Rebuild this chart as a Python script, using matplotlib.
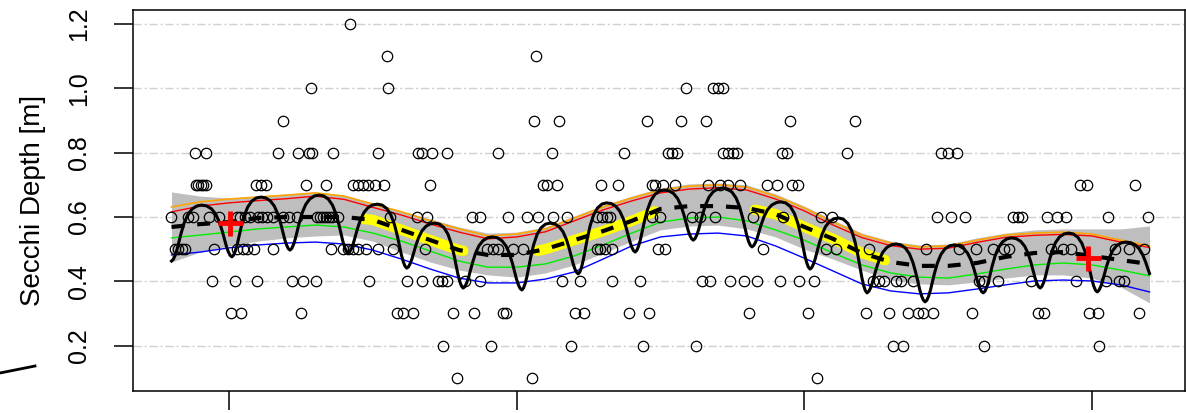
import numpy as np
import matplotlib
matplotlib.use("Agg")
import matplotlib.pyplot as plt
from matplotlib.lines import Line2D

plt.rcParams['font.family'] = ['Liberation Sans', 'DejaVu Sans']

# observed Secchi depths, grouped by recorded depth (decimal years)
obs_12 = [2002.10]
obs_11 = [2002.75, 2005.34]
obs_10 = [2001.43, 2002.76, 2007.94, 2008.41, 2008.50, 2008.59]
obs_09 = [2000.94, 2005.30, 2005.74, 2007.27, 2007.86, 2008.29, 2009.75, 2010.88]
obs_08 = [1999.41, 1999.60, 2000.85, 2001.20, 2001.39, 2001.44, 2001.81, 2002.59,
          2003.29, 2003.35, 2003.53, 2003.79, 2004.68, 2005.61, 2006.87, 2007.63,
          2007.70, 2007.79, 2008.59, 2008.67, 2008.76, 2008.83, 2009.61, 2009.70,
          2010.74, 2012.38, 2012.50, 2012.65]
obs_07 = [1999.43, 1999.46, 1999.51, 1999.55, 1999.60, 2000.47, 2000.56, 2000.64,
          2001.34, 2001.69, 2002.16, 2002.24, 2002.33, 2002.42, 2002.54, 2002.69,
          2003.49, 2005.46, 2005.53, 2005.70, 2006.47, 2006.76, 2007.35, 2007.40,
          2007.54, 2007.75, 2008.33, 2008.53, 2008.67, 2008.88, 2009.35, 2009.53,
          2009.79, 2009.89, 2014.79, 2014.91, 2015.75]
obs_06 = [1998.99, 1999.29, 1999.37, 1999.65, 1999.83, 2000.14, 2000.19, 2000.28,
          2000.37, 2000.50, 2000.57, 2000.66, 2000.76, 2000.94, 2001.04, 2001.18,
          2001.53, 2001.58, 2001.63, 2001.69, 2001.74, 2001.79, 2001.89, 2002.80,
          2003.27, 2003.44, 2004.22, 2004.36, 2004.85, 2005.18, 2005.37, 2005.63,
          2005.88, 2006.40, 2006.48, 2006.57, 2006.62, 2007.35, 2007.49, 2008.05,
          2008.19, 2008.45, 2009.11, 2009.63, 2010.29, 2010.48, 2012.31, 2012.55,
          2012.79, 2013.63, 2013.71, 2013.78, 2014.22, 2014.39, 2014.55, 2015.28,
          2015.97]
obs_05 = [1999.06, 1999.11, 1999.18, 1999.24, 1999.74, 2000.14, 2000.24, 2000.31,
          2000.43, 2000.76, 2001.77, 2001.98, 2002.07, 2002.16, 2002.24, 2002.38,
          2002.59, 2002.85, 2003.41, 2004.48, 2004.59, 2004.68, 2004.94, 2005.11,
          2006.40, 2006.45, 2006.54, 2006.66, 2007.46, 2007.58, 2009.28, 2010.38,
          2010.55, 2011.12, 2012.12, 2012.69, 2012.98, 2013.28, 2013.47, 2013.56,
          2014.29, 2014.50, 2014.64, 2015.40, 2015.64, 2015.90]
obs_04 = [1999.70, 2000.10, 2000.49, 2001.10, 2001.29, 2001.51, 2002.43, 2003.09,
          2003.35, 2003.63, 2003.70, 2003.79, 2004.10, 2004.36, 2005.79, 2006.10,
          2006.66, 2007.14, 2008.22, 2008.36, 2008.71, 2008.95, 2009.18, 2009.58,
          2009.90, 2010.17, 2011.19, 2011.30, 2011.39, 2011.59, 2011.68, 2011.89,
          2013.04, 2013.12, 2013.37, 2013.94, 2014.72, 2015.24, 2015.47, 2015.56]
obs_03 = [2000.03, 2000.21, 2001.25, 2002.92, 2003.02, 2003.20, 2003.89, 2004.26,
          2004.76, 2004.82, 2006.01, 2006.17, 2006.95, 2007.30, 2009.04, 2010.06,
          2011.07, 2011.47, 2011.80, 2011.98, 2012.06, 2012.24, 2012.92, 2014.06,
          2014.17, 2014.95, 2015.10, 2015.82]
obs_02 = [2003.72, 2004.55, 2005.94, 2007.20, 2008.12, 2011.54, 2011.72, 2013.12, 2015.12]
obs_01 = [2003.96, 2005.27, 2010.22]

depth_levels = [1.2, 1.1, 1.0, 0.9, 0.8, 0.7, 0.6, 0.5, 0.4, 0.3, 0.2, 0.1]
obs_groups = [obs_12, obs_11, obs_10, obs_09, obs_08, obs_07, obs_06, obs_05,
              obs_04, obs_03, obs_02, obs_01]

# smooth fits, read every half year
fit_year = [1999.0 + 0.5 * i for i in range(35)]
trend = [0.569, 0.578, 0.584, 0.597, 0.600, 0.600, 0.600, 0.591, 0.560, 0.528,
         0.497, 0.482, 0.482, 0.500, 0.528, 0.556, 0.588, 0.625, 0.634, 0.634,
         0.628, 0.609, 0.569, 0.532, 0.488, 0.460, 0.448, 0.448, 0.457, 0.476,
         0.488, 0.491, 0.479, 0.466, 0.454]
band_hi = [0.678, 0.665, 0.659, 0.665, 0.672, 0.678, 0.668, 0.644, 0.619, 0.594,
           0.569, 0.550, 0.553, 0.569, 0.603, 0.637, 0.665, 0.690, 0.703, 0.706,
           0.700, 0.672, 0.634, 0.591, 0.550, 0.525, 0.513, 0.516, 0.535, 0.550,
           0.560, 0.563, 0.563, 0.563, 0.572]
band_lo = [0.460, 0.491, 0.510, 0.525, 0.535, 0.541, 0.544, 0.525, 0.491, 0.460,
           0.435, 0.420, 0.413, 0.426, 0.451, 0.488, 0.525, 0.560, 0.572, 0.575,
           0.563, 0.538, 0.500, 0.469, 0.435, 0.404, 0.392, 0.389, 0.398, 0.410,
           0.420, 0.420, 0.410, 0.382, 0.333]
q_orange = [0.631, 0.647, 0.656, 0.662, 0.668, 0.675, 0.665, 0.640, 0.616, 0.588,
            0.563, 0.541, 0.547, 0.563, 0.597, 0.631, 0.659, 0.684, 0.696, 0.700,
            0.693, 0.665, 0.628, 0.584, 0.544, 0.519, 0.507, 0.510, 0.528, 0.544,
            0.550, 0.553, 0.547, 0.528, 0.510]
q_red = [0.616, 0.634, 0.644, 0.651, 0.657, 0.665, 0.655, 0.630, 0.606, 0.578,
         0.553, 0.532, 0.538, 0.554, 0.588, 0.622, 0.650, 0.675, 0.687, 0.691,
         0.684, 0.656, 0.619, 0.575, 0.536, 0.511, 0.500, 0.503, 0.521, 0.537,
         0.543, 0.546, 0.541, 0.522, 0.505]
q_green = [0.535, 0.544, 0.553, 0.563, 0.569, 0.575, 0.569, 0.550, 0.525, 0.494,
           0.463, 0.444, 0.444, 0.454, 0.479, 0.513, 0.550, 0.584, 0.597, 0.600,
           0.588, 0.560, 0.528, 0.488, 0.451, 0.426, 0.413, 0.410, 0.423, 0.438,
           0.451, 0.457, 0.451, 0.435, 0.417]
q_blue = [0.482, 0.491, 0.504, 0.513, 0.519, 0.522, 0.516, 0.497, 0.469, 0.438,
          0.410, 0.395, 0.395, 0.407, 0.429, 0.469, 0.510, 0.538, 0.547, 0.550,
          0.541, 0.510, 0.472, 0.432, 0.392, 0.370, 0.361, 0.364, 0.376, 0.389,
          0.401, 0.404, 0.401, 0.389, 0.367]

# periods with a significant trend
signif_periods = [(2002.35, 2004.07), (2005.36, 2007.40), (2009.14, 2011.40)]

# seasonal fit: yearly minima and maxima
trough_year = [1999.00, 2000.05, 2001.06, 2002.07, 2003.09, 2004.07, 2005.09, 2006.07,
               2007.06, 2008.07, 2009.09, 2010.10, 2011.09, 2012.10, 2013.11, 2014.10,
               2015.09, 2016.09]
trough_val = [0.463, 0.476, 0.497, 0.488, 0.441, 0.379, 0.373, 0.423, 0.491, 0.528,
              0.507, 0.438, 0.364, 0.336, 0.364, 0.379, 0.367, 0.400]
peak_val = [0.637, 0.662, 0.668, 0.640, 0.581, 0.538, 0.581, 0.644, 0.684, 0.690,
            0.647, 0.597, 0.516, 0.513, 0.535, 0.550, 0.522]
# shape of one seasonal cycle (fraction of the way from trough to peak)
rise_phase = [0.0, 0.03, 0.06, 0.09, 0.12, 0.16, 0.21, 0.27, 0.34, 0.42, 0.50]
rise_frac = [0.0, 0.03, 0.10, 0.20, 0.33, 0.50, 0.68, 0.83, 0.93, 0.985, 1.0]
fall_phase = [0.58, 0.66, 0.73, 0.79, 0.84, 0.88, 0.91, 0.94, 0.97]
fall_frac = [0.985, 0.93, 0.83, 0.68, 0.50, 0.33, 0.20, 0.10, 0.03]

first_obs = (2000.02, 0.581)
last_obs = (2014.93, 0.472)

seas_t, seas_v = [], []
for i in range(len(peak_val)):
    t0, t1 = trough_year[i], trough_year[i + 1]
    span = t1 - t0
    for ph, fr in zip(rise_phase, rise_frac):
        seas_t.append(t0 + ph * span)
        seas_v.append(trough_val[i] + fr * (peak_val[i] - trough_val[i]))
    for ph, fr in zip(fall_phase, fall_frac):
        seas_t.append(t0 + ph * span)
        seas_v.append(trough_val[i + 1] + fr * (peak_val[i] - trough_val[i + 1]))
seas_t = np.array(seas_t)
seas_v = np.array(seas_v)
keep = seas_t <= 2016.0
seas_t, seas_v = seas_t[keep], seas_v[keep]

fig = plt.figure(figsize=(11.86, 4.13), dpi=100)
ax = fig.add_axes([133 / 1186, 22 / 413, 1052 / 1186, 381 / 413])

for lev in [0.2, 0.4, 0.6, 0.8, 1.0, 1.2]:
    ax.axhline(lev, color='#d0d0d0', lw=1, ls=(0, (6, 2, 1.5, 2)), zorder=0)

fy = np.array(fit_year)
ax.fill_between(fy, band_lo, band_hi, color='#bebebe', lw=0, zorder=1)
ax.plot(fy, q_orange, color='orange', lw=1.2, zorder=2)
ax.plot(fy, q_red, color='red', lw=1.0, zorder=2)
ax.plot(fy, q_green, color='#00ee00', lw=1.0, zorder=2)
ax.plot(fy, q_blue, color='blue', lw=1.0, zorder=2)

tr = np.array(trend)
for a, b in signif_periods:
    m = (fy >= a) & (fy <= b)
    xs = np.concatenate([[a], fy[m], [b]])
    ys = np.interp(xs, fy, tr)
    ax.plot(xs, ys, color='yellow', lw=7.5, solid_capstyle='round', zorder=3)

ax.plot(fy, tr, color='black', lw=3, dashes=(3.1, 3.1), zorder=4)
ax.plot(seas_t, seas_v, color='black', lw=2.2, zorder=5)

for lev, xs in zip(depth_levels, obs_groups):
    ax.plot(xs, [lev] * len(xs), ls='none', marker='o', ms=7.5, mfc='none',
            mec='black', mew=0.9, zorder=6)

ax.plot([first_obs[0], last_obs[0]], [first_obs[1], last_obs[1]], ls='none',
        marker='+', ms=18, mew=3.5, color='red', zorder=7)

ax.set_xlim(1998.331, 2016.617)
ax.set_ylim(0.0588, 1.2439)
ax.set_xticks([2000, 2005, 2010, 2015])
ax.set_xticklabels(['', '', '', ''])
ax.set_yticks([0.2, 0.4, 0.6, 0.8, 1.0, 1.2])
ax.set_yticklabels(['0.2', '0.4', '0.6', '0.8', '1.0', '1.2'], rotation=90,
                   va='center', fontsize=18)
ax.tick_params(axis='y', length=14, width=1.1, pad=16, direction='out')
ax.tick_params(axis='x', length=14, width=1.1, direction='out')
for s in ax.spines.values():
    s.set_linewidth(1.1)

fig.text(33 / 1186, 1 - 200 / 413, 'Secchi Depth [m]', rotation=90,
         ha='center', va='center', fontsize=20)
fig.add_artist(Line2D([0, 35 / 1186], [1 - 373 / 413, 1 - 366 / 413],
                      color='black', lw=2))

fig.savefig('out.png', dpi=100)
